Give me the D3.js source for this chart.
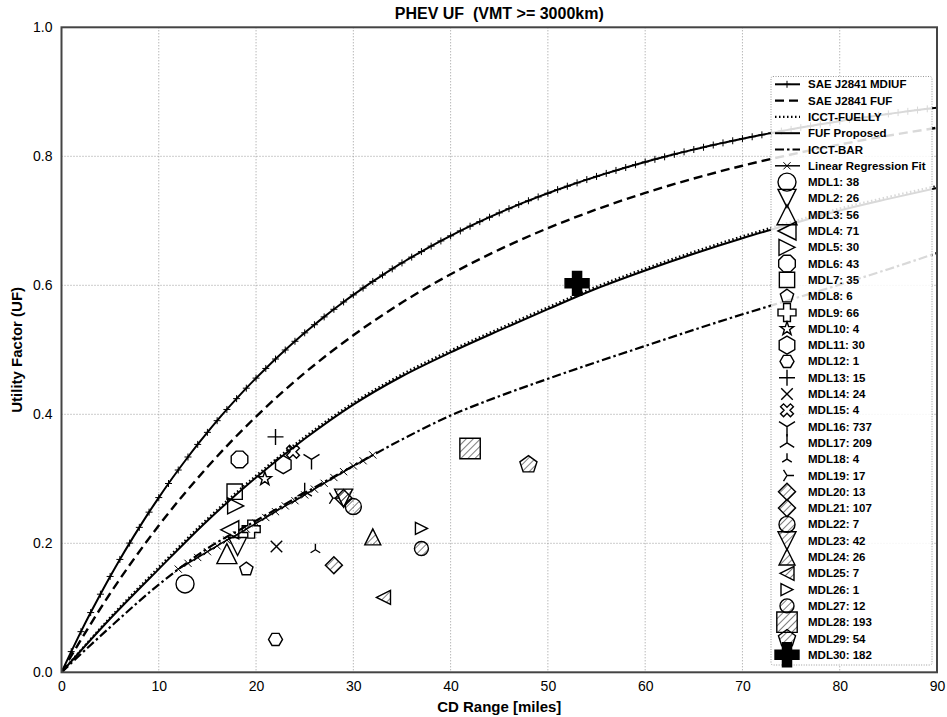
<!DOCTYPE html>
<html><head><meta charset="utf-8">
<script src="https://cdn.jsdelivr.net/npm/d3@7"></script>
<style>body{margin:0;background:#fff}svg{display:block}</style>
</head><body>
<svg id="chart" width="947" height="717"></svg>
<script>
// ---------- data ----------
const xTicks = [0,10,20,30,40,50,60,70,80,90];
const yTicks = [0.0,0.2,0.4,0.6,0.8,1.0];

// SAE J2841 MDIUF, one value per mile 0..90
const mdiufMiles = d3.range(0, 91, 1);
const mdiufUF = [0,0.0321,0.0630,0.0926,0.1211,0.1486,0.1750,0.2003,0.2247,0.2483,0.2709,
 0.2927,0.3136,0.3338,0.3533,0.3720,0.3901,0.4075,0.4243,0.4405,0.4561,
 0.4711,0.4857,0.4997,0.5132,0.5263,0.5389,0.5510,0.5628,0.5742,0.5851,
 0.5957,0.6060,0.6159,0.6255,0.6347,0.6437,0.6523,0.6607,0.6688,0.6767,
 0.6843,0.6916,0.6987,0.7056,0.7123,0.7188,0.7251,0.7311,0.7370,0.7427,
 0.7483,0.7536,0.7588,0.7639,0.7688,0.7735,0.7781,0.7826,0.7870,0.7912,
 0.7953,0.7992,0.8031,0.8069,0.8105,0.8140,0.8175,0.8208,0.8241,0.8273,
 0.8303,0.8333,0.8362,0.8391,0.8418,0.8445,0.8471,0.8497,0.8521,0.8545,
 0.8569,0.8592,0.8614,0.8636,0.8657,0.8677,0.8697,0.8717,0.8736,0.8754];

const curveMiles = [0,5,10,15,20,25,30,35,40,45,50,55,60,65,70,75,80,85,90];
const fufUF      = [0,0.1222,0.2275,0.3182,0.3965,0.4641,0.5225,0.5732,0.6171,0.6553,0.6886,0.7177,0.7432,0.7656,0.7854,0.8028,0.8183,0.8320,0.8442];
const proposedUF = [0,0.083,0.160,0.235,0.302,0.362,0.415,0.459,0.496,0.530,0.563,0.595,0.623,0.649,0.673,0.695,0.716,0.734,0.751];
const fuellyUF   = [0,0.085,0.163,0.238,0.305,0.365,0.418,0.462,0.499,0.533,0.566,0.598,0.626,0.652,0.676,0.698,0.719,0.737,0.754];
const barUF      = [0,0.070,0.136,0.192,0.235,0.278,0.320,0.361,0.398,0.428,0.455,0.481,0.506,0.531,0.555,0.578,0.601,0.625,0.650];

const linMiles = [12,13,14,15,16,17,18,19,20,21,22,23,24,25,26,27,28,29,30,31,32];
const linUF    = [0.160,0.169,0.178,0.187,0.196,0.205,0.213,0.222,0.231,0.240,0.249,0.258,0.266,0.275,0.284,0.293,0.302,0.311,0.320,0.328,0.337];

const mdlNames  = d3.range(1,31).map(i => "MDL" + i);
const mdlCounts = [38,26,56,71,30,43,35,6,66,4,30,1,15,24,4,737,209,4,17,13,107,7,42,26,7,1,12,193,54,182];
const mdlRange  = [12.7,18.1,17.0,17.3,17.9,18.3,17.8,19.0,19.5,20.9,22.8,22.0,22.0,22.1,23.8,25.7,25.0,26.1,27.9,28.0,29.0,30.0,29.0,32.0,33.1,37.0,37.0,42.0,48.0,53.0];
const mdlUF     = [0.137,0.195,0.184,0.221,0.258,0.330,0.280,0.160,0.222,0.300,0.322,0.051,0.365,0.195,0.342,0.330,0.280,0.190,0.270,0.166,0.270,0.257,0.270,0.210,0.116,0.223,0.192,0.347,0.322,0.603];
const mdlShape  = ['o','v','^','<','>','8','s','p','P','*','h','H','+','x','X','1','2','2','4','D','D','o','v','^','<','>','o','s','p','P'];
const mdlSize   = [9,9,10,9,8,9,9,7,9,7,9,7,8,8,7,10,9,6,7,9,9,8,9,8,7,6,7,12,9,12];
const mdlHatch  = [0,0,0,0,0,0,0,0,0,0,0,0,0,0,0,0,0,0,0,1,1,1,1,1,1,0,1,1,1,0];
const mdlFilled = [0,0,0,0,0,0,0,0,0,0,0,0,0,0,0,0,0,0,0,0,0,0,0,0,0,0,0,0,0,1];

const lineNames = ["SAE J2841 MDIUF","SAE J2841 FUF","ICCT-FUELLY","FUF Proposed","ICCT-BAR","Linear Regression Fit"];

// ---------- layout ----------
const W = 947, H = 717;
const m = {l:61.5, r:10, t:27.3, b:44.7};
const svg = d3.select("#chart");
const x = d3.scaleLinear().domain([0,90]).range([m.l, W-m.r]);
const y = d3.scaleLinear().domain([0,1]).range([H-m.b, m.t]);

const defs = svg.append("defs");
const hatch = defs.append("pattern").attr("id","hatch").attr("patternUnits","userSpaceOnUse")
  .attr("width",5).attr("height",5).attr("patternTransform","rotate(45)");
hatch.append("line").attr("x1",0).attr("y1",0).attr("x2",0).attr("y2",5).attr("stroke","#000").attr("stroke-width",1);
defs.append("clipPath").attr("id","clip").append("rect")
  .attr("x",m.l).attr("y",m.t).attr("width",W-m.r-m.l).attr("height",H-m.b-m.t);

// grid
const grid = svg.append("g");
grid.selectAll(".gx").data(xTicks.slice(1,-1)).join("line")
  .attr("x1",d=>x(d)).attr("x2",d=>x(d)).attr("y1",m.t).attr("y2",H-m.b)
  .attr("stroke","#999").attr("stroke-width",1).attr("stroke-dasharray","1,2");
grid.selectAll(".gy").data(yTicks.slice(1,-1)).join("line")
  .attr("y1",d=>y(d)).attr("y2",d=>y(d)).attr("x1",m.l).attr("x2",W-m.r)
  .attr("stroke","#999").attr("stroke-width",1).attr("stroke-dasharray","1,2");

// axes (labels only)
const xAxis = d3.axisBottom(x).tickValues(xTicks).tickSize(0).tickPadding(9).tickFormat(d3.format("d"));
const yAxis = d3.axisLeft(y).tickValues(yTicks).tickSize(0).tickPadding(9).tickFormat(d3.format(".1f"));
const gx = svg.append("g").attr("transform",`translate(0,${H-m.b})`).call(xAxis);
const gy = svg.append("g").attr("transform",`translate(${m.l},0)`).call(yAxis);
[gx,gy].forEach(g=>{g.select(".domain").remove();
  g.selectAll("text").attr("font-family","Liberation Sans, Arial, sans-serif").attr("font-size",14).attr("fill","#000");});

// marker shapes
function shapePath(t, r){
  const poly=(n,rot)=>{const p=[];for(let i=0;i<n;i++){const a=rot+i*2*Math.PI/n;p.push([r*Math.sin(a),-r*Math.cos(a)]);}return "M"+p.map(q=>q[0].toFixed(2)+","+q[1].toFixed(2)).join("L")+"Z";};
  const pts=a=>"M"+a.map(q=>q[0].toFixed(2)+","+q[1].toFixed(2)).join("L")+"Z";
  switch(t){
    case 'o': return `M${r},0A${r},${r} 0 1,1 ${-r},0A${r},${r} 0 1,1 ${r},0Z`;
    case '8': return poly(8,Math.PI/8);
    case 'h': return poly(6,0);
    case 'H': return poly(6,Math.PI/6);
    case 'p': return poly(5,0);
    case '^': return pts([[0,-r],[r,r],[-r,r]]);
    case 'v': return pts([[0,r],[r,-r],[-r,-r]]);
    case '<': return pts([[-r,0],[r,-r],[r,r]]);
    case '>': return pts([[r,0],[-r,-r],[-r,r]]);
    case 's': {const s=r*0.85;return pts([[-s,-s],[s,-s],[s,s],[-s,s]]);}
    case 'D': {const s=r*0.95;return pts([[0,-s],[s,0],[0,s],[-s,0]]);}
    case '*': {const p=[];for(let i=0;i<10;i++){const a=i*Math.PI/5;const rr=i%2?r*0.4:r;p.push([rr*Math.sin(a),-rr*Math.cos(a)]);}return pts(p);}
    case 'P': {const w=r*0.38;return pts([[-w,-r],[w,-r],[w,-w],[r,-w],[r,w],[w,w],[w,r],[-w,r],[-w,w],[-r,w],[-r,-w],[-w,-w]]);}
    case 'X': {const w=r*0.3,c=Math.SQRT1_2;const b=[[-w,-r],[w,-r],[w,-w],[r,-w],[r,w],[w,w],[w,r],[-w,r],[-w,w],[-r,w],[-r,-w],[-w,-w]];
               return pts(b.map(q=>[(q[0]-q[1])*c,(q[0]+q[1])*c]));}
    case '+': return `M${-r},0H${r}M0,${-r}V${r}`;
    case 'x': {const s=r*0.72;return `M${-s},${-s}L${s},${s}M${-s},${s}L${s},${-s}`;}
    case '1': return `M0,0L0,${r}M0,0L${0.8*r},${-0.5*r}M0,0L${-0.8*r},${-0.5*r}`;
    case '2': return `M0,0L0,${-r}M0,0L${0.8*r},${0.5*r}M0,0L${-0.8*r},${0.5*r}`;
    case '3': return `M0,0L${-r},0M0,0L${0.5*r},${0.8*r}M0,0L${0.5*r},${-0.8*r}`;
    case '4': return `M0,0L${r},0M0,0L${-0.5*r},${0.8*r}M0,0L${-0.5*r},${-0.8*r}`;
  }
}
function markerFill(i){ if(mdlFilled[i]) return "#000"; if(mdlHatch[i]) return "url(#hatch)"; return "none"; }

// ---------- lines ----------
const plot = svg.append("g").attr("clip-path","url(#clip)");
const lineGen = d3.line().x(d=>x(d[0])).y(d=>y(d[1])).curve(d3.curveMonotoneX);
const zip = (a,b)=>a.map((v,i)=>[v,b[i]]);
const lineStyles = [
  {data:zip(mdiufMiles,mdiufUF), dash:null, w:2},
  {data:zip(curveMiles,fufUF), dash:"9,5", w:2.4},
  {data:zip(curveMiles,fuellyUF), dash:"1.5,2.5", w:2.2},
  {data:zip(curveMiles,proposedUF), dash:null, w:2},
  {data:zip(curveMiles,barUF), dash:"9,3,2.5,3", w:2.2},
  {data:zip(linMiles,linUF), dash:null, w:1.5}
];
[3,0,1,2,4,5].forEach(k=>{
  plot.append("path").attr("d",lineGen(lineStyles[k].data)).attr("fill","none").attr("stroke","#000")
    .attr("stroke-width",lineStyles[k].w).attr("stroke-dasharray",lineStyles[k].dash);
});
plot.append("g").selectAll("path").data(zip(mdiufMiles,mdiufUF)).join("path")
  .attr("transform",d=>`translate(${x(d[0])},${y(d[1])})`).attr("d",shapePath('+',3.5))
  .attr("stroke","#000").attr("stroke-width",1).attr("fill","none");
plot.append("g").selectAll("path").data(zip(linMiles,linUF)).join("path")
  .attr("transform",d=>`translate(${x(d[0])},${y(d[1])})`).attr("d",shapePath('x',5))
  .attr("stroke","#000").attr("stroke-width",1).attr("fill","none");

// ---------- scatter markers ----------
plot.append("g").selectAll("path").data(mdlRange.map((v,i)=>i)).join("path")
  .attr("transform",i=>`translate(${x(mdlRange[i])},${y(mdlUF[i])})`)
  .attr("d",i=>shapePath(mdlShape[i],mdlSize[i]))
  .attr("fill",i=>markerFill(i)).attr("stroke","#000").attr("stroke-width",1.4)
  .attr("stroke-linejoin","miter");

// ---------- legend ----------
const lg = svg.append("g");
const lx0 = 771, ly0 = 76.5, lw = 161, lh = 588.5;
lg.append("rect").attr("x",lx0).attr("y",ly0).attr("width",lw).attr("height",lh).attr("rx",2)
  .attr("fill","#fff").attr("fill-opacity",0.85).attr("stroke","#999").attr("stroke-dasharray","1,1.5");
const rowY = i => 84.3 + i*16.3;
const hx0 = 775, hx1 = 800, mcx = 787, tx = 808;
lineNames.forEach((name,k)=>{
  const yy = rowY(k);
  lg.append("line").attr("x1",hx0).attr("x2",hx1).attr("y1",yy).attr("y2",yy).attr("stroke","#000")
    .attr("stroke-width",lineStyles[k].w).attr("stroke-dasharray",lineStyles[k].dash);
  if(k===0) lg.append("path").attr("transform",`translate(${mcx},${yy})`).attr("d",shapePath('+',3.5)).attr("stroke","#000").attr("fill","none");
  if(k===5) lg.append("path").attr("transform",`translate(${mcx},${yy})`).attr("d",shapePath('x',5)).attr("stroke","#000").attr("fill","none");
  lg.append("text").attr("x",tx).attr("y",yy).attr("dy","0.35em").text(name);
});
mdlNames.forEach((name,i)=>{
  const yy = rowY(i+6);
  lg.append("path").attr("transform",`translate(${mcx},${yy})`).attr("d",shapePath(mdlShape[i],mdlSize[i]))
    .attr("fill",markerFill(i)).attr("stroke","#000").attr("stroke-width",1.4);
  lg.append("text").attr("x",tx).attr("y",yy).attr("dy","0.35em").text(`${name}: ${mdlCounts[i]}`);
});
lg.selectAll("text").attr("font-family","Liberation Sans, Arial, sans-serif").attr("font-size",11.5).attr("font-weight","bold");

// frame
svg.append("rect").attr("x",m.l).attr("y",m.t).attr("width",W-m.r-m.l).attr("height",H-m.b-m.t)
  .attr("fill","none").attr("stroke","#444").attr("stroke-width",2);

// titles
const tf = "Liberation Sans, Arial, sans-serif";
svg.append("text").attr("x",(m.l+W-m.r)/2).attr("y",19).attr("text-anchor","middle")
  .attr("font-family",tf).attr("font-size",16).attr("font-weight","bold").style("white-space","pre").text("PHEV UF  (VMT >= 3000km)");
svg.append("text").attr("x",(m.l+W-m.r)/2).attr("y",712).attr("text-anchor","middle")
  .attr("font-family",tf).attr("font-size",15).attr("font-weight","bold").text("CD Range [miles]");
svg.append("text").attr("transform",`translate(22,${(m.t+H-m.b)/2}) rotate(-90)`).attr("text-anchor","middle")
  .attr("font-family",tf).attr("font-size",15).attr("font-weight","bold").text("Utility Factor (UF)");
</script>
</body></html>
